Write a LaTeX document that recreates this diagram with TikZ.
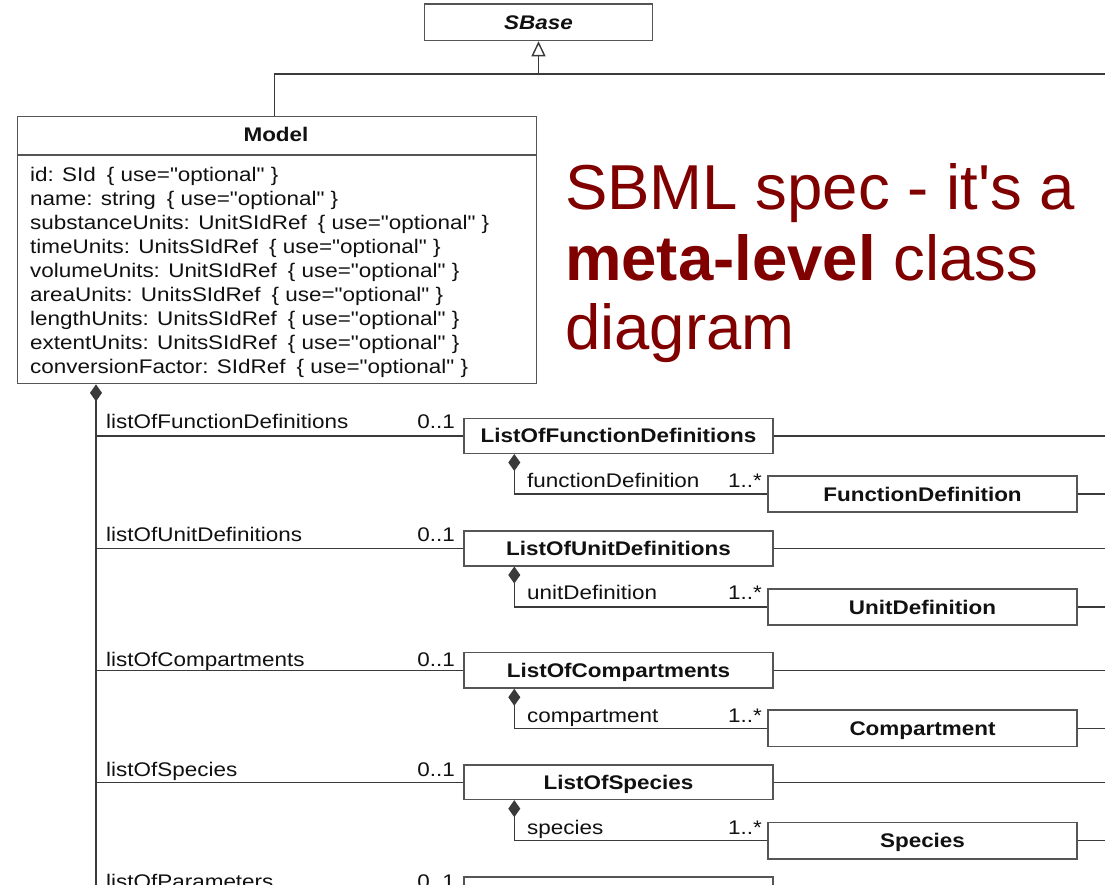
\documentclass[tikz,border=0pt]{standalone}
\usepackage{fontspec}
\setmainfont{Liberation Sans}[Ligatures=TeXOff]
\newfontfamily\umlfont{Liberation Sans}[FakeStretch=1.14]
\usetikzlibrary{arrows.meta}
\definecolor{umlline}{HTML}{3A3A3A}
\definecolor{umlbox}{HTML}{555555}
\definecolor{umltext}{HTML}{111111}
\definecolor{notered}{HTML}{800000}
\newcommand{\umlq}{\symbol{34}}
\newcommand{\optuse}{\hspace{11pt}\{ use=\umlq optional\umlq\ \}}

\begin{document}
\begin{tikzpicture}[x=1pt, y=-1pt,
  uml/.style={text=umltext, font=\umlfont\fontsize{19.7}{24}\selectfont},
  classbox/.style={uml, draw=umlbox, line width=1.4pt, fill=white, inner sep=0pt,
    minimum width=309pt, text height=14pt, text depth=0pt,
    font=\umlfont\fontsize{19.7}{24}\selectfont\bfseries},
  conn/.style={draw=umlline, line width=1.4pt},
  comp/.style={conn, {Diamond[width=12pt,length=17pt]}-},
  gen/.style={conn, -{Triangle[open, width=14pt, length=15pt]}},
  role/.style={uml, anchor=base west, inner sep=0pt},
  mult/.style={uml, anchor=base east, inner sep=0pt},
  attr/.style={uml, anchor=base west, inner sep=0pt},
  note/.style={text=notered, anchor=base west, inner sep=0pt,
    font=\fontsize{63.5}{70}\selectfont},
]
\useasboundingbox (0,0) rectangle (1105,884);
\clip (0,0) rectangle (1105,884);
\fill[white] (0,0) rectangle (1105,884);

\coordinate (rightedge) at (1110,0);
\coordinate (spinebottom) at (96,910);

% superclass
\node[classbox, minimum width=228pt, minimum height=36.5pt,
  font=\umlfont\fontsize{19.7}{24}\selectfont\bfseries\itshape] (sbase) at (538.5,22.3) {SBase};

% Model class with its attributes
\node[draw=umlbox, line width=1.4pt, fill=white, minimum width=519pt,
  minimum height=267pt, inner sep=0pt, anchor=north west] (model) at (16.5,116) {};
\draw[draw=umlbox, line width=1.4pt] ([yshift=-39pt]model.north west) -- ([yshift=-39pt]model.north east);
\node[uml, font=\umlfont\fontsize{19.7}{24}\selectfont\bfseries, anchor=base] (modeltitle) at (276,141) {Model};
\foreach \a [count=\i] in {id: SId, name: string, substanceUnits: UnitSIdRef,
    timeUnits: UnitsSIdRef, volumeUnits: UnitSIdRef, areaUnits: UnitsSIdRef,
    lengthUnits: UnitsSIdRef, extentUnits: UnitsSIdRef, conversionFactor: SIdRef}
  \node[attr] (attr\i) at (30,{181+24*(\i-1)}) {\a\optuse};

% generalization
\coordinate (genjoin) at (538.5,74);
\coordinate (genright) at (1110,74);
\draw[conn] ([xshift=258pt]model.north west) |- (genright);
\draw[gen] (genjoin) -- (sbase.south);

% composition spine
\draw[comp] ([xshift=79.5pt]model.south west) -- (spinebottom);

% function definitions
\node[classbox, minimum height=35pt] (lofd) at (618.5,435.8) {ListOfFunctionDefinitions};
\node[role] (lofd-role) at (106,428) {listOfFunctionDefinitions};
\node[mult] (lofd-mult) at (455,428) {0..1};
\draw[conn] (spinebottom |- lofd.west) -- (lofd.west);
\draw[conn] (lofd.east) -- (lofd.east -| rightedge);
\node[classbox, minimum height=36pt] (fd) at (922.5,494) {FunctionDefinition};
\node[role] (fd-role) at (527,487) {functionDefinition};
\node[mult] (fd-mult) at (762,487) {1..*};
\draw[comp] ([xshift=51pt]lofd.south west) |- (fd.west);
\draw[conn] (fd.east) -- (fd.east -| rightedge);

% unit definitions
\node[classbox, minimum height=35pt] (loud) at (618.5,548.3) {ListOfUnitDefinitions};
\node[role] (loud-role) at (106,541) {listOfUnitDefinitions};
\node[mult] (loud-mult) at (455,541) {0..1};
\draw[conn] (spinebottom |- loud.west) -- (loud.west);
\draw[conn] (loud.east) -- (loud.east -| rightedge);
\node[classbox, minimum height=36pt] (ud) at (922.5,607) {UnitDefinition};
\node[role] (ud-role) at (527,599) {unitDefinition};
\node[mult] (ud-mult) at (762,599) {1..*};
\draw[comp] ([xshift=51pt]loud.south west) |- (ud.west);
\draw[conn] (ud.east) -- (ud.east -| rightedge);

% compartments
\node[classbox, minimum height=35.5pt] (loc) at (618.5,670.3) {ListOfCompartments};
\node[role] (loc-role) at (106,666) {listOfCompartments};
\node[mult] (loc-mult) at (455,666) {0..1};
\draw[conn] (spinebottom |- loc.west) -- (loc.west);
\draw[conn] (loc.east) -- (loc.east -| rightedge);
\node[classbox, minimum height=36.5pt] (comp) at (922.5,728.3) {Compartment};
\node[role] (comp-role) at (527,722) {compartment};
\node[mult] (comp-mult) at (762,722) {1..*};
\draw[comp] ([xshift=51pt]loc.south west) |- (comp.west);
\draw[conn] (comp.east) -- (comp.east -| rightedge);

% species
\node[classbox, minimum height=34.5pt] (los) at (618.5,782.2) {ListOfSpecies};
\node[role] (los-role) at (106,776) {listOfSpecies};
\node[mult] (los-mult) at (455,776) {0..1};
\draw[conn] (spinebottom |- los.west) -- (los.west);
\draw[conn] (los.east) -- (los.east -| rightedge);
\node[classbox, minimum height=36.5pt] (sp) at (922.5,840.6) {Species};
\node[role] (sp-role) at (527,834) {species};
\node[mult] (sp-mult) at (762,834) {1..*};
\draw[comp] ([xshift=51pt]los.south west) |- (sp.west);
\draw[conn] (sp.east) -- (sp.east -| rightedge);

% parameters (continues below)
\node[classbox, minimum height=35pt] (lop) at (618.5,894.5) {};
\node[role] (lop-role) at (106,888) {listOfParameters};
\node[mult] (lop-mult) at (455,888) {0..1};
\draw[conn] (spinebottom |- lop.west) -- (lop.west);

% slide caption
\node[note] (note1) at (565,209) {SBML spec - it's a};
\node[note] (note2) at (565,280) {\textbf{meta-level} class};
\node[note] (note3) at (565,349) {diagram};
\end{tikzpicture}
\end{document}
